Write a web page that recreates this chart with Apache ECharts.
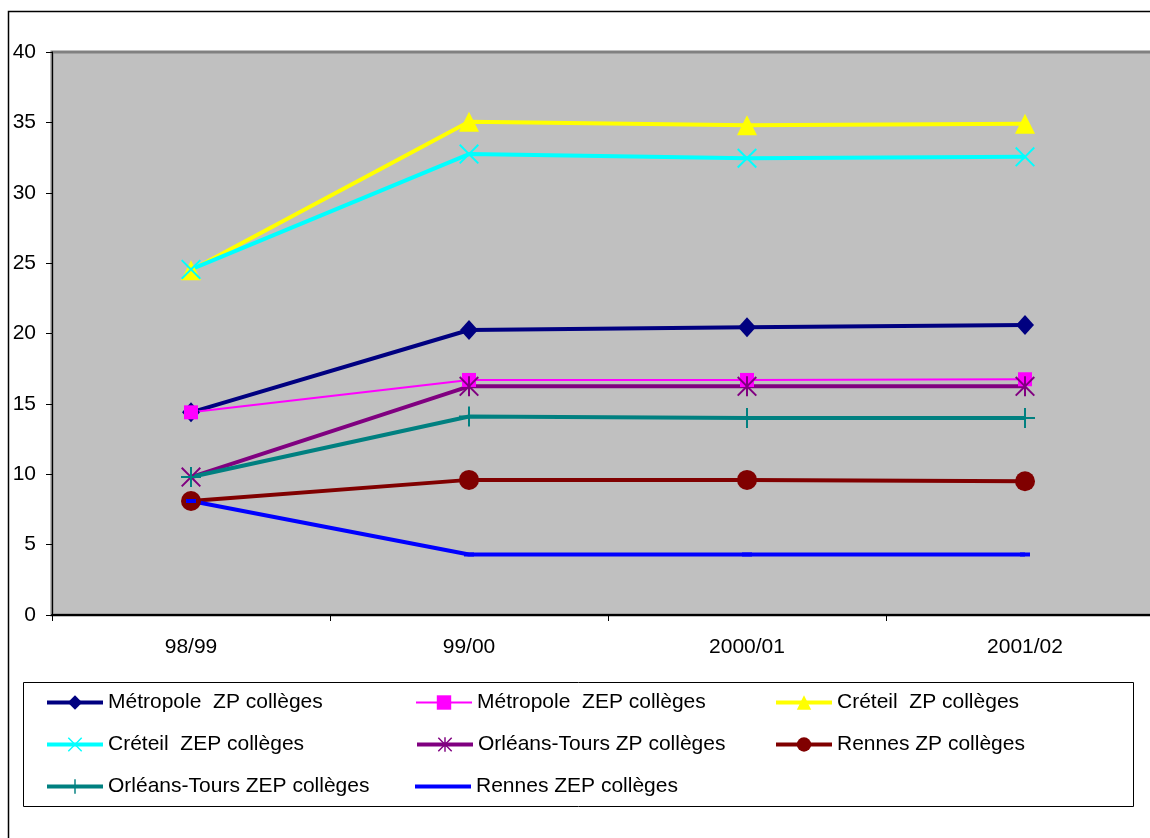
<!DOCTYPE html>
<html>
<head>
<meta charset="utf-8">
<script src="https://cdn.jsdelivr.net/npm/echarts@6/dist/echarts.min.js"></script>
<style>
html,body{margin:0;padding:0;background:#fff;overflow:hidden;width:1150px;height:838px;}
#chart{width:1180px;height:838px;}
</style>
</head>
<body>
<div id="chart"></div>
<script>
var categories = ['98/99', '99/00', '2000/01', '2001/02'];
var yTicks = [0, 5, 10, 15, 20, 25, 30, 35, 40];

var metropoleZP  = [14.4, 20.25, 20.45, 20.6];
var metropoleZEP = [14.4, 16.7, 16.7, 16.75];
var creteilZP    = [24.5, 35.05, 34.8, 34.9];
var creteilZEP   = [24.55, 32.75, 32.45, 32.55];
var orleansZP    = [9.8, 16.25, 16.25, 16.25];
var rennesZP     = [8.1, 9.6, 9.6, 9.5];
var orleansZEP   = [9.8, 14.1, 14.0, 14.0];
var rennesZEP    = [8.1, 4.3, 4.3, 4.3];

var names = [
  'Métropole  ZP collèges',
  'Métropole  ZEP collèges',
  'Créteil  ZP collèges',
  'Créteil  ZEP collèges',
  'Orléans-Tours ZP collèges',
  'Rennes ZP collèges',
  'Orléans-Tours ZEP collèges',
  'Rennes ZEP collèges'
];

var FONT = '"Liberation Sans", Arial, sans-serif';

var xPath = 'path://M0,7L7,0L50,43L93,0L100,7L57,50L100,93L93,100L50,57L7,100L0,93L43,50Z';
var starPath = 'path://M0,7L7,0L50,43L93,0L100,7L57,50L100,93L93,100L50,57L7,100L0,93L43,50ZM45,0L55,0L55,100L45,100Z';
var plusPath = 'path://M45,0L55,0L55,45L100,45L100,55L55,55L55,100L45,100L45,55L0,55L0,45L45,45Z';

var colors = ['#000080', '#FF00FF', '#FFFF00', '#00FFFF', '#800080', '#800000', '#008080', '#0000FF'];
var widths = [4, 2, 4, 4, 4, 4, 4, 4];

function mk(i, data, symbol, size) {
  return {
    name: names[i],
    type: 'line',
    data: data,
    symbol: symbol,
    symbolSize: size,
    itemStyle: { color: colors[i] },
    lineStyle: { color: colors[i], width: widths[i] },
    emphasis: { disabled: true },
    animation: false
  };
}

var series = [
  mk(0, metropoleZP, 'diamond', [18, 20]),
  mk(1, metropoleZEP, 'rect', 14),
  mk(2, creteilZP, 'triangle', 20),
  mk(3, creteilZEP, xPath, 20),
  mk(4, orleansZP, starPath, 20),
  mk(5, rennesZP, 'circle', 20),
  mk(6, orleansZEP, plusPath, 20),
  mk(7, rennesZEP, 'rect', [10, 4])
];

var colLeft = [45, 415, 774];
var rowTop = [692, 734, 776];
var placement = [
  [0, 0], [1, 0], [2, 0],
  [0, 1], [1, 1], [2, 1],
  [0, 2], [1, 2]
];
var legends = names.map(function (n, i) {
  var plain = (i === 7);
  return {
    data: [plain ? { name: n, icon: 'rect' } : n],
    left: colLeft[placement[i][0]],
    top: rowTop[placement[i][1]],
    padding: 0,
    itemWidth: 56,
    itemHeight: plain ? 4 : 18,
    selectedMode: false,
    lineStyle: { width: widths[i] },
    textStyle: { fontSize: 21, color: '#000', fontFamily: FONT }
  };
});

var chart = echarts.init(document.getElementById('chart'), null, { renderer: 'canvas' });
chart.setOption({
  backgroundColor: '#ffffff',
  animation: false,
  graphic: [
    { type: 'rect', silent: true, z: -1,
      shape: { x: 8.5, y: 11.5, width: 1300, height: 1000 },
      style: { fill: 'none', stroke: '#000', lineWidth: 1.5 } },
    { type: 'rect', silent: true,
      shape: { x: 23.5, y: 682.5, width: 1110, height: 124 },
      style: { fill: 'none', stroke: '#000', lineWidth: 1 } }
  ],
  legend: legends,
  grid: {
    left: 52, top: 52, width: 1112, height: 563,
    show: true, backgroundColor: '#C0C0C0', borderColor: '#808080', borderWidth: 3
  },
  xAxis: {
    type: 'category',
    data: categories,
    boundaryGap: true,
    axisLine: { show: true, lineStyle: { color: '#000', width: 2 } },
    axisTick: { show: true, length: 6, lineStyle: { color: '#000' } },
    axisLabel: { color: '#000', fontSize: 21, fontFamily: FONT, margin: 22 },
    splitLine: { show: false }
  },
  yAxis: {
    type: 'value',
    min: yTicks[0], max: yTicks[yTicks.length - 1], interval: 5,
    axisLine: { show: true, lineStyle: { color: '#000', width: 1 } },
    axisTick: { show: true, length: 6, lineStyle: { color: '#000' } },
    axisLabel: { color: '#000', fontSize: 21, fontFamily: FONT, margin: 16 },
    splitLine: { show: false }
  },
  series: series
});
</script>
</body>
</html>
